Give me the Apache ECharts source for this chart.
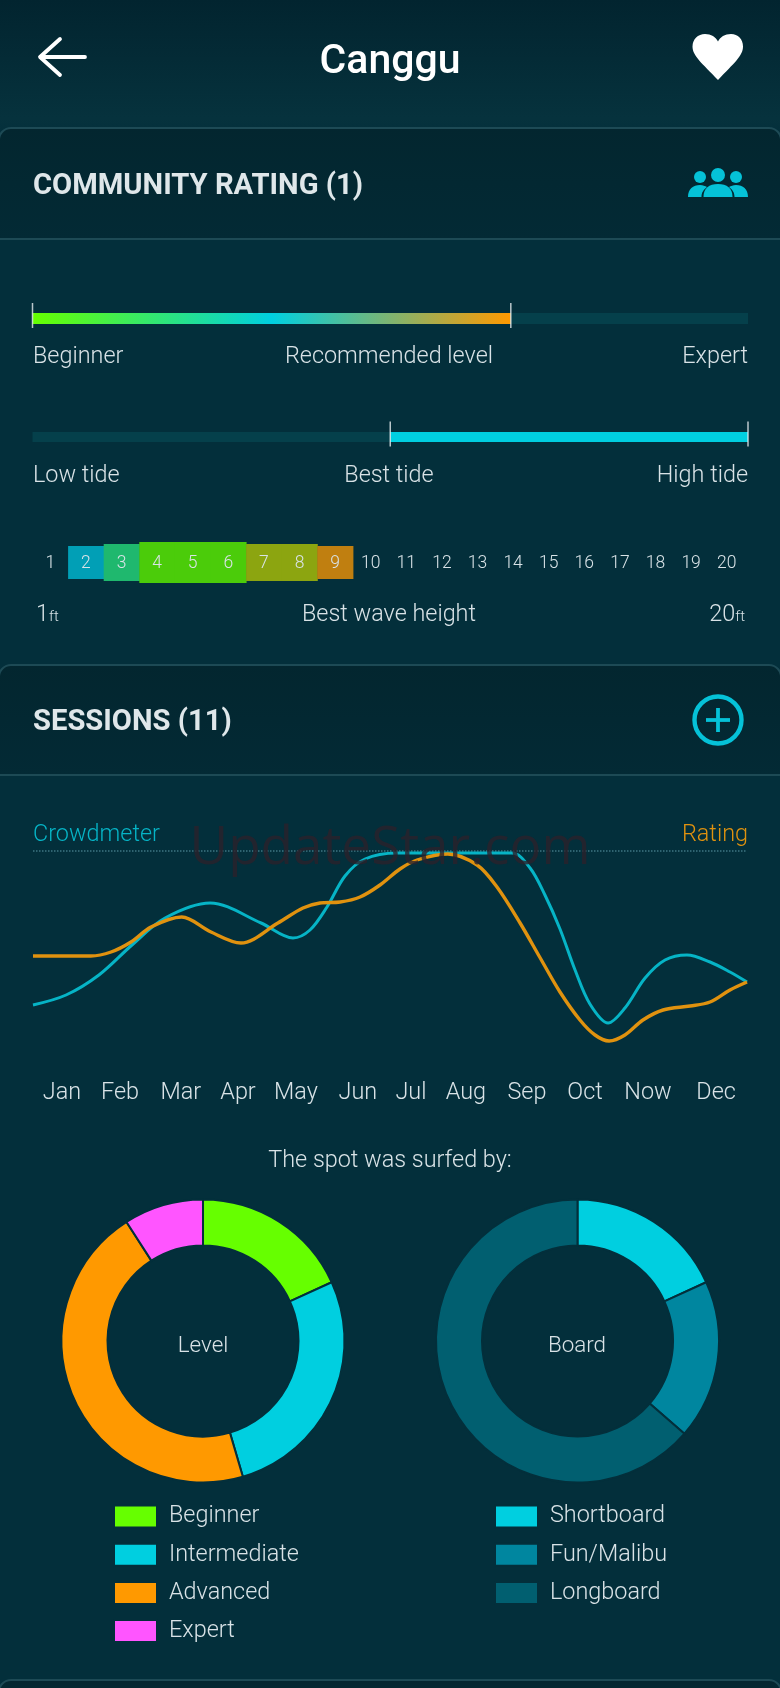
<!DOCTYPE html>
<html>
<head>
<meta charset="utf-8">
<title>Canggu</title>
<script src="https://cdn.jsdelivr.net/npm/echarts@6/dist/echarts.min.js"></script>
<style>
  html, body { margin: 0; padding: 0; background: #032f3b; }
  #chart { width: 780px; height: 1688px; }
</style>
</head>
<body>
<div id="chart"></div>
<script>
// Community rating
const levelValue = 66.85;   // percent of the beginner -> expert scale
const tideStart = 50;       // percent of the low -> high tide scale
const tideEnd = 100;
const waveLabels = ["1","2","3","4","5","6","7","8","9","10","11","12","13","14","15","16","17","18","19","20"];
const waveVotes = [0,1,2,3,3,3,2,2,1,0,0,0,0,0,0,0,0,0,0,0];

// Sessions: curves as [day of year, percent]
const months = ["Jan","Feb","Mar","Apr","May","Jun","Jul","Aug","Sep","Oct","Now","Dec"];
const monthDays = [14.8,44.5,75.6,104.8,134.4,166.1,193.2,221.3,252.5,282.2,314.4,349.2];
const crowdmeter = [
  [0,24],[16.9,29],[33.7,39],[50.6,54],[67.5,67.5],[90.5,75],[116.6,65],
  [132.9,57.5],[141.6,61.5],[150.3,73],[159.5,88.5],[169.7,97],[186,100],[244.9,100],[254.1,92.5],
  [261.7,79],[269.4,62],[277.1,41.5],[284.7,24.5],[294,15],[302.6,22.5],[312.9,37.5],[323.1,46.5],
  [334.3,49],[346.1,45.5],[356.3,40.5],[365,35.5]
];
const rating = [
  [0,48.5],[29.6,48.5],[39.9,50.5],[50.1,55.5],[60.3,63],[76,68],[91,60.5],
  [106.3,55],[125.2,65],[138,72.5],[146.7,75],[157,75.5],[167.2,78],[177.4,84],
  [187.6,92],[196.3,96.5],[212,99.5],[227,94],[237.2,83],[249,65],[259.3,47.5],[269.4,30.5],
  [279.6,16.5],[287.3,9],[294.5,6],[302.6,9],[311.8,16.5],[322.1,21.5],[335.9,23.5],[346.1,25.5],
  [356.3,31.5],[365,35.5]
];

// Who surfed it
const levelNames = ["Beginner","Intermediate","Advanced","Expert"];
const levelCounts = [2,3,5,1];
const boardNames = ["Shortboard","Fun/Malibu","Longboard"];
const boardCounts = [2,2,7];

const FONT = "Roboto, sans-serif";
const BG = "#032f3b";
const TEXT = "#d9e3e7";
const CYAN = "#00cfe0";
const ICON = "#05c2d8";
const ORANGE = "#ff9900";
const LINE_ORANGE = "#e0920f";
const LINE_CYAN = "#06b4c6";
const TRACK = "#05404b";
const BORDER = "#1d4a55";
const WAVE_COLORS = [null,"#019fb6","#1fb86e","#4bcc0a","#4bcc0a","#4bcc0a","#8ca510","#8ca510","#c07f10"];
const LEVEL_COLORS = ["#66ff00",CYAN,ORANGE,"#ff55ff"];
const BOARD_COLORS = [CYAN,"#00869f","#015f70"];

const chart = echarts.init(document.getElementById("chart"), null, { renderer: "canvas" });

function txt(text, x, y, o) {
  o = o || {};
  return {
    type: "text", x: x, y: y, z: o.z || 10, silent: true,
    style: {
      text: text, fill: o.color || TEXT, align: o.align || "left", verticalAlign: "middle",
      font: (o.weight || 300) + " " + (o.size || 23.4) + "px " + FONT, rich: o.rich
    }
  };
}

function panel(top, bottom) {
  const fill = new echarts.graphic.LinearGradient(0, 0, 0, 1, [
    { offset: 0, color: "#03262f" }, { offset: 1, color: "#032a35" }
  ]);
  return {
    type: "rect", z: 1, silent: true,
    shape: { x: -1, y: top, width: 782, height: bottom - top, r: [12, 12, 0, 0] },
    style: { fill: fill, stroke: BORDER, lineWidth: 2 }
  };
}

function hiddenAxis(type, min, max, index) {
  return { type: type, min: min, max: max, gridIndex: index, show: false };
}

// little white end marks on the two rating bars
function ticks(xIndex, yIndex, values) {
  return {
    type: "scatter", xAxisIndex: xIndex, yAxisIndex: yIndex, clip: false, silent: true, z: 4,
    symbol: "rect", symbolSize: [1.5, 25], symbolOffset: [0, -3],
    itemStyle: { color: "#e8eef0" },
    data: values.map((v) => [v, "v"])
  };
}

function ftRich() {
  return {
    n: { fontSize: 23.4, fontWeight: 300, fill: TEXT, fontFamily: FONT },
    u: { fontSize: 15, fontWeight: 300, fill: TEXT, fontFamily: FONT, padding: [4, 0, 0, 0] }
  };
}

function legendFor(names, left) {
  return {
    data: names, orient: "vertical", left: left, top: 1504.5, padding: 0, icon: "rect", itemWidth: 43, itemHeight: 22,
    itemGap: 14.2, selectedMode: false,
    textStyle: { color: TEXT, fontSize: 23.4, fontWeight: 300, fontFamily: FONT, padding: [0, 0, 0, 7] }
  };
}

const heart = "M718 80 C702 63 692.5 56 692.5 46.5 C692.5 39 698 34 705 34 C711 34 716 37 718 41.5 C720 37 725 34 731 34 C738 34 743 39 743 46.5 C743 56 734 63 718 80 Z";
const people = [
  "M688 197 C688 189 693 185 700 185 C703 185 705 186 707 187 C703 190 701.5 193 701.5 197 Z",
  "M703.5 197 C703.5 188 709 184 718 184 C727 184 732.5 188 732.5 197 Z",
  "M748 197 C748 189 743 185 736 185 C733 185 731 186 729 187 C733 190 734.5 193 734.5 197 Z"
];

const option = {
  animation: false,
  backgroundColor: new echarts.graphic.LinearGradient(0, 0, 0, 1, [
    { offset: 0, color: "#02242f" }, { offset: 0.07, color: "#06323d" }, { offset: 0.08, color: BG }, { offset: 1, color: BG }
  ]),
  textStyle: { fontFamily: FONT },
  grid: [
    { left: 32.5, width: 715.5, top: 313, height: 11 },
    { left: 32.5, width: 715.5, top: 432, height: 10 },
    { left: 32.5, width: 712, top: 542, height: 41 },
    { left: 33, width: 714, top: 853, height: 200 }
  ],
  xAxis: [
    hiddenAxis("value", 0, 100, 0),
    hiddenAxis("value", 0, 100, 1),
    {
      type: "category", gridIndex: 2, data: waveLabels, z: 10,
      axisLine: { show: false }, axisTick: { show: false },
      axisLabel: { interval: 0, margin: -19, verticalAlign: "middle", color: TEXT, fontSize: 17.5, fontWeight: 300, fontFamily: FONT }
    },
    {
      type: "value", gridIndex: 3, min: 0, max: 365, position: "bottom", offset: 0,
      axisLine: { show: false }, axisTick: { show: false }, splitLine: { show: false },
      axisLabel: {
        customValues: monthDays, margin: 29, color: TEXT, fontSize: 23.4, fontWeight: 300, fontFamily: FONT,
        formatter: (v) => months[monthDays.indexOf(v)]
      }
    }
  ],
  yAxis: [
    { type: "category", gridIndex: 0, data: ["v"], show: false },
    { type: "category", gridIndex: 1, data: ["v"], show: false },
    { type: "value", gridIndex: 2, min: 0, max: 10.25, show: false },
    { type: "value", gridIndex: 3, min: 0, max: 100, show: false }
  ],
  legend: [legendFor(levelNames, 113), legendFor(boardNames, 494)],
  series: [
    {
      // recommended level
      type: "bar", xAxisIndex: 0, yAxisIndex: 0, barWidth: "100%", silent: true,
      showBackground: true, backgroundStyle: { color: TRACK },
      data: [levelValue],
      itemStyle: {
        color: new echarts.graphic.LinearGradient(0, 0, 1, 0, [
          { offset: 0, color: "#66ff00" }, { offset: 0.5, color: CYAN }, { offset: 1, color: ORANGE }
        ])
      }
    },
    ticks(0, 0, [0, levelValue]),
    {
      // best tide: transparent offset plus the filled part
      type: "bar", xAxisIndex: 1, yAxisIndex: 1, barWidth: "100%", stack: "tide", silent: true,
      showBackground: true, backgroundStyle: { color: TRACK },
      data: [tideStart], itemStyle: { color: "transparent" }
    },
    {
      type: "bar", xAxisIndex: 1, yAxisIndex: 1, barWidth: "100%", stack: "tide", silent: true,
      data: [tideEnd - tideStart], itemStyle: { color: CYAN }
    },
    ticks(1, 1, [tideStart, tideEnd]),
    {
      // best wave height: taller cell = more votes
      type: "custom", xAxisIndex: 2, yAxisIndex: 2, silent: true, z: 2,
      data: waveVotes.map((v, i) => [i, v]),
      renderItem: (params, api) => {
        const votes = api.value(1);
        if (!votes) return null;
        const sys = params.coordSys;
        const w = api.size([1, 0])[0];
        const h = api.size([0, votes])[1] + 29;
        const cx = api.coord([api.value(0), 0])[0];
        return {
          type: "rect",
          shape: { x: cx - w / 2, y: sys.y + sys.height / 2 - h / 2, width: w + 0.5, height: h },
          style: { fill: WAVE_COLORS[api.value(0)] }
        };
      }
    },
    {
      name: "Crowdmeter", type: "line", xAxisIndex: 3, yAxisIndex: 3, data: crowdmeter, smooth: 0.33,
      showSymbol: false, clip: false, silent: true, z: 3, lineStyle: { color: LINE_CYAN, width: 3 }
    },
    {
      name: "Rating", type: "line", xAxisIndex: 3, yAxisIndex: 3, data: rating, smooth: 0.33,
      showSymbol: false, clip: false, silent: true, z: 4, lineStyle: { color: LINE_ORANGE, width: 3.4 }
    },
    {
      type: "pie", center: [203, 1341], radius: [95.5, 141.5], startAngle: 90, silent: true, z: 2,
      label: { show: false }, labelLine: { show: false },
      itemStyle: { borderColor: BG, borderWidth: 2 },
      data: levelNames.map((n, i) => ({ name: n, value: levelCounts[i], itemStyle: { color: LEVEL_COLORS[i] } }))
    },
    {
      type: "pie", center: [577.5, 1341], radius: [95.5, 141.5], startAngle: 90, silent: true, z: 2,
      label: { show: false }, labelLine: { show: false },
      itemStyle: { borderColor: BG, borderWidth: 2 },
      data: boardNames.map((n, i) => ({ name: n, value: boardCounts[i], itemStyle: { color: BOARD_COLORS[i] } }))
    },
    {
      // header icons
      type: "custom", coordinateSystem: "none", silent: true, z: 10, data: [[0]],
      renderItem: () => ({
        type: "group",
        children: [
          { type: "path", shape: { pathData: heart }, style: { fill: "#ffffff" } },
          { type: "circle", shape: { cx: 700, cy: 177, r: 6 }, style: { fill: ICON } },
          { type: "circle", shape: { cx: 718, cy: 175, r: 7 }, style: { fill: ICON } },
          { type: "circle", shape: { cx: 736, cy: 177, r: 6 }, style: { fill: ICON } }
        ].concat(people.map((d) => ({ type: "path", shape: { pathData: d }, style: { fill: ICON } })))
      })
    }
  ],
  graphic: [
    panel(128, 239),
    panel(665, 775),
    panel(1680, 1700),

    { type: "polyline", z: 10, silent: true, shape: { points: [[60, 39], [40, 57], [60, 75]] }, style: { stroke: "#fff", lineWidth: 3.8, fill: null, lineCap: "round", lineJoin: "round" } },
    { type: "line", z: 10, silent: true, shape: { x1: 41, y1: 57, x2: 85, y2: 57 }, style: { stroke: "#fff", lineWidth: 3.8, lineCap: "round" } },
    txt("Canggu", 390, 63, { align: "center", size: 41, weight: 500, color: "#ffffff" }),

    txt("COMMUNITY RATING (1)", 33, 187, { size: 29.2, weight: 700, color: "#dfe7ea" }),
    txt("Beginner", 33, 357.5),
    txt("Recommended level", 389, 357.5, { align: "center" }),
    txt("Expert", 748, 357.5, { align: "right" }),

    txt("Low tide", 33, 476),
    txt("Best tide", 389, 476, { align: "center" }),
    txt("High tide", 748, 476, { align: "right" }),

    txt("{n|1}{u|ft}", 36, 615.5, { rich: ftRich() }),
    txt("Best wave height", 389, 615.5, { align: "center" }),
    txt("{n|20}{u|ft}", 745, 615.5, { align: "right", rich: ftRich() }),

    txt("SESSIONS (11)", 33, 723, { size: 29.2, weight: 700, color: "#dfe7ea" }),
    { type: "circle", z: 10, silent: true, shape: { cx: 718, cy: 720, r: 23.5 }, style: { stroke: ICON, lineWidth: 4.4, fill: null } },
    { type: "line", z: 10, silent: true, shape: { x1: 706, y1: 720, x2: 730, y2: 720 }, style: { stroke: ICON, lineWidth: 3.8 } },
    { type: "line", z: 10, silent: true, shape: { x1: 718, y1: 708, x2: 718, y2: 732 }, style: { stroke: ICON, lineWidth: 3.8 } },

    txt("Crowdmeter", 33, 835.5, { color: LINE_CYAN }),
    txt("Rating", 748, 835.5, { align: "right", color: LINE_ORANGE }),
    { type: "line", z: 1, silent: true, shape: { x1: 33, y1: 851, x2: 747, y2: 851 }, style: { stroke: "#3f7683", lineWidth: 1.5, lineDash: [1.5, 1.5] } },

    txt("The spot was surfed by:", 390, 1161.5, { align: "center" }),
    txt("Level", 203, 1346, { align: "center", size: 22.4 }),
    txt("Board", 577, 1346, { align: "center", size: 22.4 }),

    {
      type: "text", x: 390, y: 849, z: 100, silent: true,
      style: { text: "UpdateStar.com", fill: "rgba(42,34,44,0.8)", align: "center", verticalAlign: "middle", font: "400 53px 'Open Sans', sans-serif" }
    }
  ]
};

chart.setOption(option);
</script>
</body>
</html>
